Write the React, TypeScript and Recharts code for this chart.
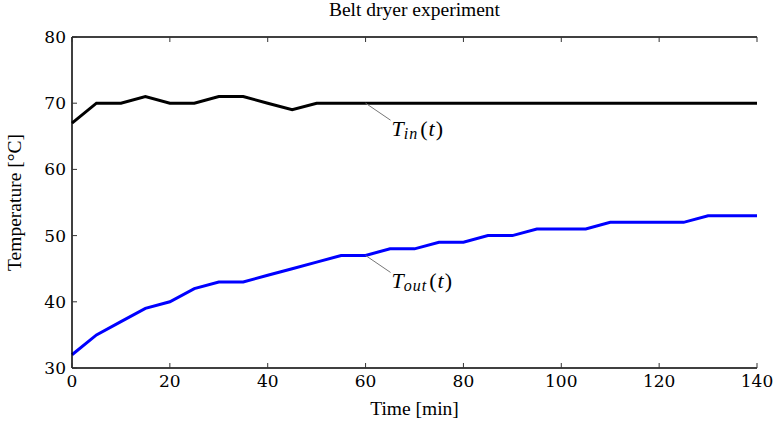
import { LineChart, Line, XAxis, YAxis, ReferenceDot } from 'recharts';

// sampled every 5 minutes
const TIME = [0, 5, 10, 15, 20, 25, 30, 35, 40, 45, 50, 55, 60, 65, 70, 75, 80, 85, 90, 95, 100, 105, 110, 115, 120, 125, 130, 135, 140];
const T_IN = [67, 70, 70, 71, 70, 70, 71, 71, 70, 69, 70, 70, 70, 70, 70, 70, 70, 70, 70, 70, 70, 70, 70, 70, 70, 70, 70, 70, 70];
const T_OUT = [32, 35, 37, 39, 40, 42, 43, 43, 44, 45, 46, 47, 47, 48, 48, 49, 49, 50, 50, 51, 51, 51, 52, 52, 52, 52, 53, 53, 53];

const X_TICKS = [0, 20, 40, 60, 80, 100, 120, 140];
const Y_TICKS = [30, 40, 50, 60, 70, 80];

const FONT = 'Liberation Serif';
const MATH_FONT = 'DejaVu Serif';
const TICK_LEN = 5;
const GAP = 6;

const data = TIME.map((t, i) => ({ t, tin: T_IN[i], tout: T_OUT[i] }));

function BottomTick({ x, y, payload }: any) {
  const axisY = y - GAP;
  return (
    <g>
      <line x1={x} x2={x} y1={axisY} y2={axisY - TICK_LEN} stroke="#333" strokeWidth={1} />
      <text x={x} y={y} dy="0.75em" textAnchor="middle" fontFamily={MATH_FONT} fontSize={17} fill="#000">
        {payload.value}
      </text>
    </g>
  );
}

function TopTick({ x, y }: any) {
  return <line x1={x} x2={x} y1={y} y2={y + TICK_LEN} stroke="#333" strokeWidth={1} />;
}

function LeftTick({ x, y, payload }: any) {
  const axisX = x + GAP;
  return (
    <g>
      <line x1={axisX} x2={axisX + TICK_LEN} y1={y} y2={y} stroke="#333" strokeWidth={1} />
      <text x={x} y={y} dy="0.35em" textAnchor="end" fontFamily={MATH_FONT} fontSize={17} fill="#000">
        {payload.value}
      </text>
    </g>
  );
}

function RightTick({ x, y }: any) {
  return <line x1={x} x2={x - TICK_LEN} y1={y} y2={y} stroke="#333" strokeWidth={1} />;
}

// leader line + math-style label, e.g. T_in(t)
function Annotation({ cx, cy, sub }: any) {
  const lx = cx + 25;
  const ly = cy + 17;
  return (
    <g>
      <line x1={cx} y1={cy} x2={lx} y2={ly} stroke="#777" strokeWidth={1} />
      <text x={lx + 1} y={cy + 33} fontFamily={FONT} fontSize={22} fill="#000">
        <tspan fontStyle="italic">T</tspan>
        <tspan fontStyle="italic" fontSize={16} dy={3} letterSpacing={1}>{sub}</tspan>
        <tspan dy={-3} dx={2}>(</tspan>
        <tspan fontStyle="italic" dx={1}>t</tspan>
        <tspan dx={1}>)</tspan>
      </text>
    </g>
  );
}

const labelStyle = { fontFamily: FONT, fontSize: 19.5, fill: '#000' };

export default function App() {
  return (
    <div style={{ position: 'absolute', left: 0, top: 0, background: '#fff' }}>
      <LineChart width={775} height={427} data={data} margin={{ top: 0, right: 18, bottom: 9, left: 12 }}>
        <XAxis
          dataKey="t"
          type="number"
          domain={[0, 140]}
          ticks={X_TICKS}
          height={50}
          tickSize={0}
          tickMargin={GAP}
          tick={<BottomTick />}
          axisLine={{ stroke: '#000', strokeWidth: 1.5 }}
          label={{ value: 'Time [min]', position: 'insideBottom', offset: 3, style: labelStyle }}
        />
        <XAxis
          xAxisId="top"
          orientation="top"
          dataKey="t"
          type="number"
          domain={[0, 140]}
          ticks={X_TICKS}
          height={37}
          tickSize={0}
          tickMargin={0}
          tick={<TopTick />}
          axisLine={{ stroke: '#000', strokeWidth: 1.5 }}
          label={{ value: 'Belt dryer experiment', position: 'insideTop', offset: 2, style: labelStyle }}
        />
        <YAxis
          type="number"
          domain={[30, 80]}
          ticks={Y_TICKS}
          width={60}
          tickSize={0}
          tickMargin={GAP}
          tick={<LeftTick />}
          axisLine={{ stroke: '#000', strokeWidth: 1.5 }}
          label={{ value: 'Temperature [°C]', angle: -90, position: 'insideLeft', offset: 2, style: { ...labelStyle, textAnchor: 'middle' } }}
        />
        <YAxis
          yAxisId="right"
          orientation="right"
          type="number"
          domain={[30, 80]}
          ticks={Y_TICKS}
          width={0}
          tickSize={0}
          tickMargin={0}
          tick={<RightTick />}
          axisLine={{ stroke: '#000', strokeWidth: 1.5 }}
        />
        <Line dataKey="tin" stroke="#000" strokeWidth={3} dot={false} isAnimationActive={false} strokeLinejoin="miter" />
        <Line dataKey="tout" stroke="#0000ff" strokeWidth={3} dot={false} isAnimationActive={false} strokeLinejoin="miter" />
        <ReferenceDot x={60} y={70} shape={(p: any) => <Annotation cx={p.cx} cy={p.cy} sub="in" />} />
        <ReferenceDot x={60} y={47} shape={(p: any) => <Annotation cx={p.cx} cy={p.cy} sub="out" />} />
      </LineChart>
    </div>
  );
}
